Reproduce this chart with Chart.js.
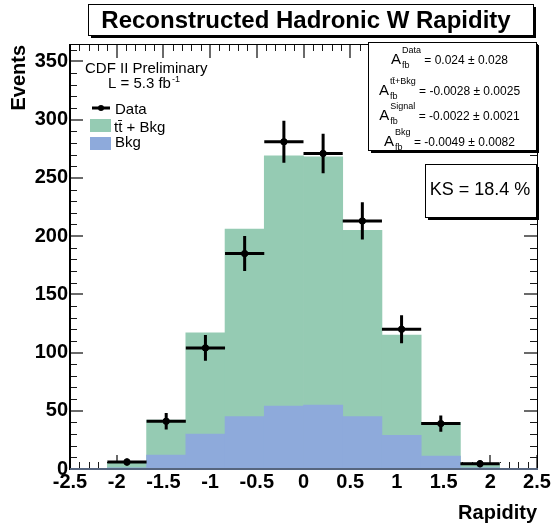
<!DOCTYPE html>
<html>
<head>
<meta charset="UTF-8">
<title>Reconstructed Hadronic W Rapidity</title>
<script src="https://cdn.jsdelivr.net/npm/chart.js"></script>
<style>
  body {margin:0;background:#fff;}
  #wrap {width:551px;height:527px;}
</style>
</head>
<body>
<div id="wrap"><canvas id="rapChart" width="551" height="527"></canvas></div>
<script>
// histogram bins (rapidity), width 0.42 from -2.1 to 2.1
const binCenters = [-1.89, -1.47, -1.05, -0.63, -0.21, 0.21, 0.63, 1.05, 1.47, 1.89];
const binWidth = 0.42;
const ttbarBkg = [5, 42, 117, 206, 269, 268, 205, 115, 40, 5];
const bkgOnly = [1, 12, 30, 45, 54, 55, 45, 29, 11, 1];
const dataVals = [6, 41, 104, 185, 281, 271, 213, 120, 39, 4.5];
const dataErr = [3, 7, 11, 15, 18, 17, 16, 12, 7, 3];
const xTicks = [-2.5, -2, -1.5, -1, -0.5, 0, 0.5, 1, 1.5, 2, 2.5];
const yTicks = [0, 50, 100, 150, 200, 250, 300, 350];
const afbLabels = ['Data', 'tt\u0304+Bkg', 'Signal', 'Bkg'];
const afbValues = ['0.024 \u00b1 0.028', '-0.0028 \u00b1 0.0025', '-0.0022 \u00b1 0.0021', '-0.0049 \u00b1 0.0082'];
const ksText = 'KS = 18.4 %';

const FONT = '"Liberation Sans", Arial, Helvetica, sans-serif';
const GREEN = '#95cbb3', BLUE = '#8eaadb';

function pave(ctx, x, y, w, h) {
  ctx.fillStyle = '#000';
  ctx.fillRect(x + 3, y + 3, w, h);
  ctx.fillStyle = '#fff';
  ctx.fillRect(x, y, w, h);
  ctx.strokeStyle = '#000';
  ctx.lineWidth = 1;
  ctx.strokeRect(x + 0.5, y + 0.5, w, h);
}

function drawAfb(ctx, cx, base, sup, val) {
  ctx.font = '15px ' + FONT; const wA = ctx.measureText('A').width;
  ctx.font = '9px ' + FONT; const wS = Math.max(ctx.measureText(sup).width, ctx.measureText('fb').width);
  const rest = ' = ' + val;
  ctx.font = '12px ' + FONT; const wR = ctx.measureText(rest).width;
  let x = cx - (wA + wS + wR) / 2;
  ctx.textAlign = 'left'; ctx.textBaseline = 'alphabetic'; ctx.fillStyle = '#000';
  ctx.font = '15px ' + FONT; ctx.fillText('A', x, base); x += wA + 1;
  ctx.font = '9px ' + FONT; ctx.fillText(sup, x, base - 11); ctx.fillText('fb', x, base + 4); x += wS;
  ctx.font = '12px ' + FONT; ctx.fillText(rest, x, base);
}

// top of the filled histogram at a given x value (pixel), or null outside the bins
function histTop(yScale, v) {
  for (let k = 0; k < binCenters.length; k++) {
    if (Math.abs(v - binCenters[k]) <= binWidth / 2 + 1e-9) return yScale.getPixelForValue(ttbarBkg[k]);
  }
  return null;
}

const decor = {
  id: 'decor',
  afterDatasetsDraw(chart) {
    const {ctx, chartArea: a} = chart;
    const x = chart.scales.x, y = chart.scales.y;
    const L = Math.round(a.left), R = Math.round(a.right), T = Math.round(a.top), B = Math.round(a.bottom);
    ctx.save();

    // axis ticks (bottom ones stay behind the filled histogram); major ones a bit wider and grey
    for (let i = 0; i <= 50; i++) {
      const v = -2.5 + i * 0.1;
      const major = i % 5 === 0;
      const px = Math.round(x.getPixelForValue(v));
      const len = major ? 14 : 7, w = major ? 2 : 1;
      ctx.fillStyle = major ? '#6a6a6a' : '#1a1a1a';
      ctx.fillRect(px - (w - 1), T, w, len);
      const top = histTop(y, v);
      const lo = top === null ? B : Math.min(B, Math.round(top));
      if (lo > B - len) ctx.fillRect(px - (w - 1), B - len, w, lo - (B - len));
    }
    for (let v = 0; v <= 360; v += 10) {
      const major = v % 50 === 0;
      const py = Math.round(y.getPixelForValue(v));
      const len = major ? 13 : 7, w = major ? 2 : 1;
      ctx.fillStyle = major ? '#6a6a6a' : '#1a1a1a';
      ctx.fillRect(L, py - (w - 1), len, w);
      ctx.fillRect(R - len, py - (w - 1), len, w);
    }

    // data error bars
    ctx.strokeStyle = '#000';
    ctx.lineWidth = 3;
    ctx.beginPath();
    binCenters.forEach((c, i) => {
      const px = x.getPixelForValue(c);
      const py = y.getPixelForValue(dataVals[i]);
      ctx.moveTo(x.getPixelForValue(c - binWidth / 2), py);
      ctx.lineTo(x.getPixelForValue(c + binWidth / 2), py);
      ctx.moveTo(px, y.getPixelForValue(dataVals[i] + dataErr[i]));
      ctx.lineTo(px, y.getPixelForValue(Math.max(0, dataVals[i] - dataErr[i])));
    });
    ctx.stroke();

    // frame
    ctx.fillStyle = '#000';
    ctx.fillRect(L, T, R - L + 1, 1);
    ctx.fillRect(R, T, 1, B - T);
    ctx.fillRect(L - 1, T, 2, B - T + 1);
    ctx.fillStyle = '#56657e';
    ctx.fillRect(L, B - 1, R - L + 1, 2);

    // title
    pave(ctx, 88, 4, 445, 31);
    ctx.fillStyle = '#000';
    ctx.font = 'bold 24px ' + FONT;
    ctx.textAlign = 'center'; ctx.textBaseline = 'middle';
    ctx.fillText('Reconstructed Hadronic W Rapidity', 306, 21);

    // A_fb box
    pave(ctx, 368, 42, 168, 108);
    const bases = [64, 95, 120, 146];
    afbLabels.forEach((s, i) => drawAfb(ctx, 449, bases[i], s, afbValues[i]));

    // KS box
    pave(ctx, 425, 164, 111, 53);
    ctx.fillStyle = '#000';
    ctx.font = '18px ' + FONT;
    ctx.textAlign = 'center'; ctx.textBaseline = 'middle';
    ctx.fillText(ksText, 480, 190);

    // legend
    ctx.textAlign = 'left'; ctx.textBaseline = 'alphabetic';
    ctx.font = '15px ' + FONT;
    ctx.fillText('CDF II Preliminary', 85, 73);
    ctx.fillText('L = 5.3 fb', 108, 88);
    const wl = ctx.measureText('L = 5.3 fb').width;
    ctx.font = '9px ' + FONT;
    ctx.fillText('-1', 108 + wl + 1, 82);
    ctx.font = '15px ' + FONT;
    ctx.lineWidth = 3; ctx.strokeStyle = '#000';
    ctx.beginPath(); ctx.moveTo(92, 108); ctx.lineTo(110, 108); ctx.stroke();
    ctx.beginPath(); ctx.arc(101, 108, 3, 0, Math.PI * 2); ctx.fill();
    ctx.fillText('Data', 115, 114);
    ctx.fillStyle = GREEN; ctx.fillRect(90, 119, 21, 13);
    ctx.fillStyle = BLUE; ctx.fillRect(90, 137, 21, 13);
    ctx.fillStyle = '#000';
    ctx.fillText('tt\u0304 + Bkg', 114, 132);
    ctx.fillText('Bkg', 115, 147);

    // axis titles
    ctx.font = 'bold 20px ' + FONT;
    ctx.textAlign = 'right';
    ctx.fillText('Rapidity', a.right, 519);
    ctx.translate(25, 45);
    ctx.rotate(-Math.PI / 2);
    ctx.fillText('Events', 0, 0);
    ctx.restore();
  }
};

new Chart(document.getElementById('rapChart'), {
  type: 'bar',
  data: {
    datasets: [
      {
        type: 'scatter',
        label: 'Data',
        data: binCenters.map((c, i) => ({x: c, y: dataVals[i]})),
        backgroundColor: '#000',
        borderColor: '#000',
        pointRadius: 3.2,
        pointHoverRadius: 3.2
      },
      {
        label: 'Bkg',
        data: binCenters.map((c, i) => ({x: c, y: bkgOnly[i]})),
        backgroundColor: BLUE,
        grouped: false,
        barPercentage: 1,
        categoryPercentage: 1
      },
      {
        label: 'tt + Bkg',
        data: binCenters.map((c, i) => ({x: c, y: ttbarBkg[i]})),
        backgroundColor: GREEN,
        grouped: false,
        barPercentage: 1,
        categoryPercentage: 1
      }
    ]
  },
  options: {
    responsive: false,
    animation: false,
    layout: {padding: {top: 44, right: 14, left: 0, bottom: 0}},
    plugins: {legend: {display: false}, tooltip: {enabled: false}, title: {display: false}},
    scales: {
      x: {
        type: 'linear',
        min: -2.5, max: 2.5,
        offset: false,
        grid: {display: false, drawTicks: false},
        border: {display: false},
        afterBuildTicks: s => { s.ticks = xTicks.map(v => ({value: v})); },
        afterFit: s => { s.height = 58; s.paddingLeft = 0; s.paddingRight = 0; },
        ticks: {
          padding: 1,
          color: '#000',
          font: {family: FONT, size: 20, weight: 'bold'},
          maxRotation: 0,
          autoSkip: false,
          callback: v => String(v)
        }
      },
      y: {
        min: 0, max: 365,
        grid: {display: false, drawTicks: false},
        border: {display: false},
        afterBuildTicks: s => { s.ticks = yTicks.map(v => ({value: v})); },
        afterFit: s => { s.width = 70; s.paddingTop = 0; s.paddingBottom = 0; },
        ticks: {
          padding: 2,
          color: '#000',
          font: {family: FONT, size: 20, weight: 'bold'},
          callback: v => String(v)
        }
      }
    }
  },
  plugins: [decor]
});
</script>
</body>
</html>
